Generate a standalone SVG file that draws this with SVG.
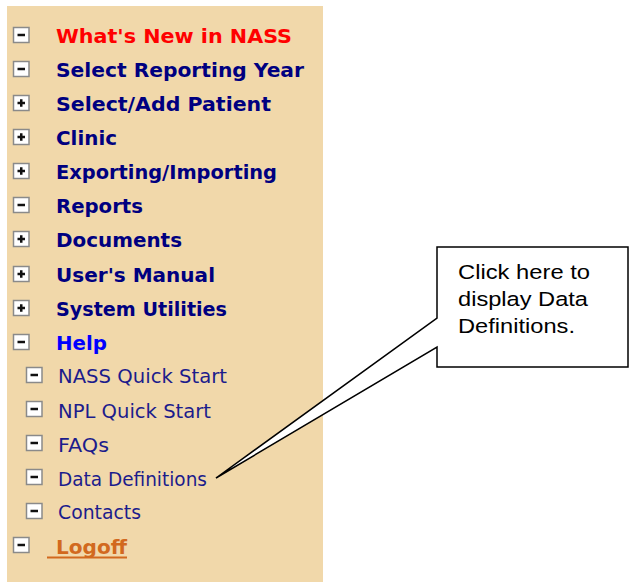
<svg xmlns="http://www.w3.org/2000/svg" width="632" height="586" viewBox="0 0 632 586">
<style>
.top{font-family:"DejaVu Sans",Verdana,sans-serif;font-weight:bold;font-size:20px;fill:#000080}
.sub{font-family:"DejaVu Sans",Verdana,sans-serif;font-size:20px;fill:#1c1c8c}
.box{fill:#fff;stroke:#8a8a8a;stroke-width:1.5}
.sign{stroke:#111;stroke-width:2.5;fill:none}
.call{font-family:"Liberation Sans",Arial,sans-serif;font-size:20.5px;fill:#000}
</style>
<defs>
<g id="minus"><rect class="box" x="0.5" y="0.5" width="15.5" height="15"/><path class="sign" d="M4.5 8H12"/></g>
<g id="plus"><rect class="box" x="0.5" y="0.5" width="15.5" height="15"/><path class="sign" d="M4.5 8H12M8.25 4.25V11.75"/></g>
</defs>
<rect x="7" y="6" width="316" height="576" fill="#F1D8AA"/>
<g id="n1"><use href="#minus" x="13" y="27"/><text class="top" x="56" y="43" style="fill:#FF0000" textLength="236" lengthAdjust="spacingAndGlyphs">What's New in NASS</text></g>
<g id="n2"><use href="#minus" x="13" y="61"/><text class="top" x="56" y="77" textLength="248" lengthAdjust="spacingAndGlyphs">Select Reporting Year</text></g>
<g id="n3"><use href="#plus" x="13" y="95"/><text class="top" x="56" y="111" textLength="215" lengthAdjust="spacingAndGlyphs">Select/Add Patient</text></g>
<g id="n4"><use href="#plus" x="13" y="129"/><text class="top" x="56" y="145" textLength="61" lengthAdjust="spacingAndGlyphs">Clinic</text></g>
<g id="n5"><use href="#plus" x="13" y="163"/><text class="top" x="56" y="179" textLength="221" lengthAdjust="spacingAndGlyphs">Exporting/Importing</text></g>
<g id="n6"><use href="#minus" x="13" y="197"/><text class="top" x="56" y="213" textLength="87" lengthAdjust="spacingAndGlyphs">Reports</text></g>
<g id="n7"><use href="#plus" x="13" y="231"/><text class="top" x="56" y="247" textLength="126" lengthAdjust="spacingAndGlyphs">Documents</text></g>
<g id="n8"><use href="#plus" x="13" y="266"/><text class="top" x="56" y="282" textLength="159" lengthAdjust="spacingAndGlyphs">User's Manual</text></g>
<g id="n9"><use href="#plus" x="13" y="300"/><text class="top" x="56" y="316" textLength="171" lengthAdjust="spacingAndGlyphs">System Utilities</text></g>
<g id="n10"><use href="#minus" x="13" y="334"/><text class="top" x="56" y="350" style="fill:#0000FF" textLength="51" lengthAdjust="spacingAndGlyphs">Help</text></g>
<g id="s1"><use href="#minus" x="26" y="367"/><text class="sub" x="58" y="383" textLength="169" lengthAdjust="spacingAndGlyphs">NASS Quick Start</text></g>
<g id="s2"><use href="#minus" x="26" y="401"/><text class="sub" x="58" y="418" textLength="153" lengthAdjust="spacingAndGlyphs">NPL Quick Start</text></g>
<g id="s3"><use href="#minus" x="26" y="435"/><text class="sub" x="58" y="452" textLength="51" lengthAdjust="spacingAndGlyphs">FAQs</text></g>
<g id="s4"><use href="#minus" x="26" y="469"/><text class="sub" x="58" y="486" textLength="149" lengthAdjust="spacingAndGlyphs">Data Definitions</text></g>
<g id="s5"><use href="#minus" x="26" y="503"/><text class="sub" x="58" y="519" textLength="83" lengthAdjust="spacingAndGlyphs">Contacts</text></g>
<g id="logoff"><use href="#minus" x="13" y="537"/><text class="top" x="56" y="554" style="fill:#D2691E" textLength="71" lengthAdjust="spacingAndGlyphs">Logoff</text><line x1="47" y1="557.5" x2="127" y2="557.5" stroke="#D2691E" stroke-width="2"/></g>
<g id="connectors"></g>
<g id="callout">
<path d="M437 247H628V367H437V347L216 478L437 318Z" fill="#fff" stroke="#000" stroke-width="1.5" stroke-linejoin="miter"/>
<text class="call" x="458" y="279" textLength="132" lengthAdjust="spacingAndGlyphs">Click here to</text>
<text class="call" x="458" y="306" textLength="130" lengthAdjust="spacingAndGlyphs">display Data</text>
<text class="call" x="458" y="333" textLength="117" lengthAdjust="spacingAndGlyphs">Definitions.</text>
</g>
</svg>
